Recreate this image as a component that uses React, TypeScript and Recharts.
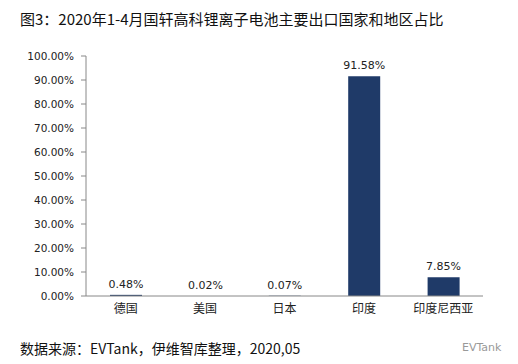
import { BarChart, Bar, XAxis, YAxis, LabelList } from "recharts";

const countries = ["德国", "美国", "日本", "印度", "印度尼西亚"];
const shares = [0.0048, 0.0002, 0.0007, 0.9158, 0.0785];
const yTicks = [0, 0.1, 0.2, 0.3, 0.4, 0.5, 0.6, 0.7, 0.8, 0.9, 1];

const data = countries.map((name, i) => ({ name, share: shares[i] }));

const pct = (v: number) => (v * 100).toFixed(2) + "%";

const FONT = '"Noto Sans CJK SC", "DejaVu Sans", sans-serif';
const NUM_FONT = '"DejaVu Sans", sans-serif';

export default function App() {
  return (
    <div
      style={{
        position: "absolute",
        left: 0,
        top: 0,
        width: 518,
        height: 364,
        background: "#fff",
        fontFamily: FONT,
        overflow: "hidden",
      }}
    >
      <div style={{ position: "absolute", left: 20, top: 8, fontSize: 15, color: "#111" }}>
        图3：2020年1-4月国轩高科锂离子电池主要出口国家和地区占比
      </div>
      <BarChart
        width={518}
        height={364}
        data={data}
        margin={{ top: 56, right: 35, bottom: 48, left: 0 }}
      >
        <YAxis
          width={86}
          domain={[0, 1]}
          ticks={yTicks}
          tickFormatter={pct}
          interval={0}
          tick={{ fontSize: 10.5, fill: "#222", fontFamily: NUM_FONT }}
          axisLine={{ stroke: "#888" }}
          tickLine={{ stroke: "#888" }}
          tickSize={5}
          tickMargin={7}
        />
        <XAxis
          dataKey="name"
          height={20}
          tick={{ fontSize: 12, fill: "#222", fontFamily: FONT }}
          axisLine={{ stroke: "#888" }}
          tickLine={false}
        />
        <Bar dataKey="share" fill="#1f3a68" barSize={32} isAnimationActive={false}>
          <LabelList
            dataKey="share"
            position="top"
            offset={7}
            formatter={(v: any) => pct(Number(v))}
            style={{ fontSize: 11, fill: "#222", fontFamily: NUM_FONT }}
          />
        </Bar>
      </BarChart>
      <div style={{ position: "absolute", left: 20, top: 338, fontSize: 14, color: "#111" }}>
        数据来源：EVTank，伊维智库整理，2020,05
      </div>
      <div
        style={{
          position: "absolute",
          left: 462,
          top: 341,
          fontSize: 11,
          color: "#999",
          fontFamily: NUM_FONT,
        }}
      >
        EVTank
      </div>
    </div>
  );
}
